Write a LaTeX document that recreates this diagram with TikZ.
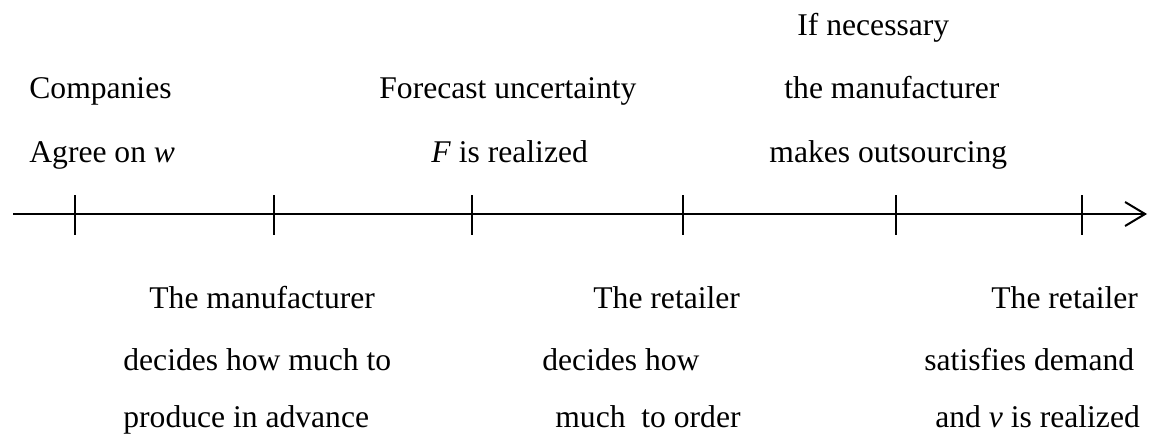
\documentclass[tikz,border=0pt]{standalone}
\usepackage{fontspec}
\setmainfont{Liberation Serif}
\usepackage{tikz}
\usetikzlibrary{arrows.meta,positioning}

\begin{document}
\begin{tikzpicture}[x=0.5pt,y=-0.5pt,>={Straight Barb[length=10pt,width=12pt]}]
  \tikzstyle{event}=[anchor=base west,inner sep=0pt,font=\fontsize{15.8}{18}\selectfont]
  \tikzstyle{axis}=[line width=1pt]
  \tikzstyle{tick}=[line width=0.9pt]

  \useasboundingbox (0,0) rectangle (1149,439);

  % Time axis
  \coordinate (start) at (13,214);
  \coordinate (end) at (1147,214);
  \draw [axis,->] (start) -- (end);
  \foreach \x [count=\i] in {75,274,472,683,896,1082} {
    \coordinate (t\i) at (\x,214);
    \draw [tick] (\x,195) -- (\x,235);
  }

  % Events above the axis
  \node [event] (agree1) at (29,98) {Companies};
  \node [event] (agree2) at (29,162) {Agree on \textit{w}};
  \node [event] (forecast1) at (379,98) {Forecast uncertainty};
  \node [event] (forecast2) at (431,162) {\textit{F} is realized};
  \node [event] (outsrc1) at (797,35) {If necessary};
  \node [event] (outsrc2) at (784,98) {the manufacturer};
  \node [event] (outsrc3) at (769,162) {makes outsourcing};

  % Events below the axis
  \node [event] (produce1) at (149,308) {The manufacturer};
  \node [event] (produce2) at (123,370) {decides how much to};
  \node [event] (produce3) at (123,427) {produce in advance};
  \node [event] (order1) at (593,308) {The retailer};
  \node [event] (order2) at (542,370) {decides how};
  \node [event] (order3) at (555,427) {much \ to order};
  \node [event] (demand1) at (991,308) {The retailer};
  \node [event] (demand2) at (924,370) {satisfies demand};
  \node [event] (demand3) at (935,427) {and \textit{v} is realized};
\end{tikzpicture}
\end{document}
